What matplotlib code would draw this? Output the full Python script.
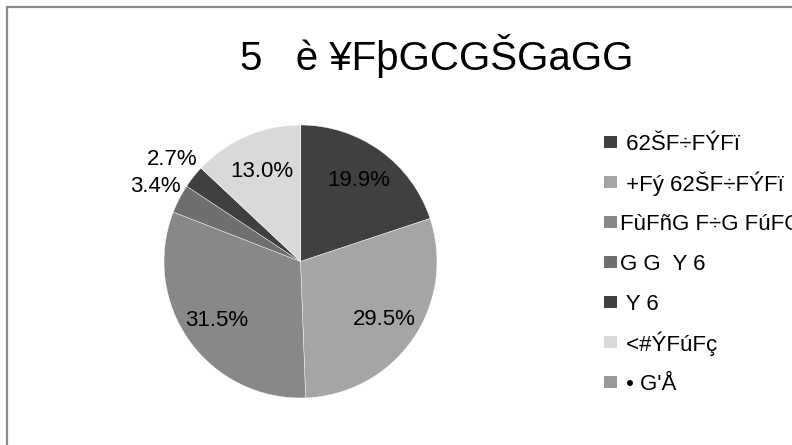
import numpy as np
import matplotlib
matplotlib.use("Agg")
import matplotlib.pyplot as plt
from matplotlib.patches import Rectangle

plt.rcParams['font.family'] = ['Liberation Sans', 'DejaVu Sans']

# data (labels are kept as they appear in the chart)
title = "5   è ¥FþGCGŠGaGG"
labels = [" 62ŠF÷FÝFï", " +Fý 62ŠF÷FÝFï", "FùFñG F÷G FúFGGG", "G G  Y 6",
          " Y 6", " <#ÝFúFç", " • G'Å"]
shares = [19.9, 29.5, 31.5, 3.4, 2.7, 13.0, 0.0]
colors = ['#404040', '#a5a5a5', '#888888', '#6f6f6f', '#404040', '#d9d9d9', '#999999']
label_dist = [0.73, 0.75, 0.75, 1.2, 1.2, 0.72, 0.75]

W, H = 792, 445
fig = plt.figure(figsize=(W / 100, H / 100), dpi=100)

# chart frame (runs off the right and bottom edges)
fig.patches.append(Rectangle((6.5 / W, -0.1), 1.0, 1.1 - 6.5 / H, transform=fig.transFigure,
                             fill=False, edgecolor='#8a8a8a', linewidth=1.6))

fig.text(437 / W, 1 - 70 / H, title, ha='center', va='baseline', fontsize=29, color='black')

# pie
cx, cy, r = 300.5, 261.5, 136.5
ax = fig.add_axes([(cx - r) / W, 1 - (cy + r) / H, 2 * r / W, 2 * r / H])
wedges, _ = ax.pie(shares, colors=colors, startangle=90, counterclock=False,
                   wedgeprops=dict(edgecolor='white', linewidth=0.3))
ax.set_xlim(-1, 1)
ax.set_ylim(-1, 1)
ax.axis('off')

for w, v, d in zip(wedges, shares, label_dist):
    if v <= 0:
        continue
    mid = np.deg2rad((w.theta1 + w.theta2) / 2)
    ax.text(d * np.cos(mid), d * np.sin(mid), f"{v:.1f}%", ha='center', va='center',
            fontsize=16, color='black', clip_on=False)

# legend
for i, (lab, c) in enumerate(zip(labels, colors)):
    yc = 141.7 + 40 * i
    fig.patches.append(Rectangle((604 / W, 1 - (yc + 6) / H), 12.5 / W, 12 / H,
                                 transform=fig.transFigure, facecolor=c, edgecolor='none'))
    fig.text(620 / W, 1 - yc / H, lab, ha='left', va='center_baseline', fontsize=16,
             color='black')

fig.savefig("out.png", dpi=100)
